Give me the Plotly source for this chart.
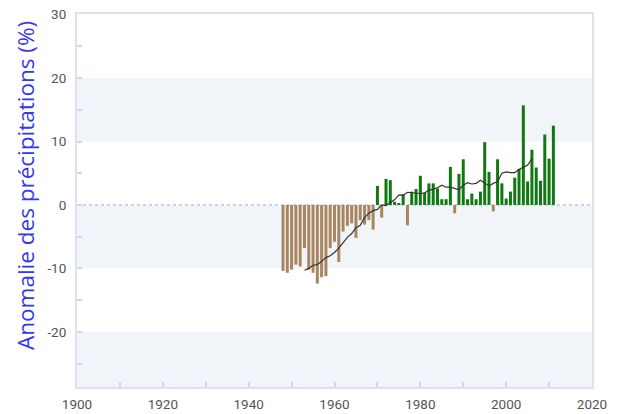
import plotly.graph_objects as go

# Annual precipitation anomaly (%) relative to the reference period
years = list(range(1948, 2012))
anomaly = [
    -10.4, -10.7, -10.2, -9.4, -9.7, -6.8, -10.2, -10.7, -12.4, -11.4,
    -11.2, -6.8, -5.8, -9.0, -4.2, -3.3, -2.9, -5.2, -2.4, -3.1,
    -2.4, -3.9, 3.0, -2.0, 4.1, 3.9, 0.5, 0.3, 1.7, -3.2,
    2.1, 2.5, 4.6, 1.9, 3.4, 3.4, 2.6, 0.9, 0.9, 6.0,
    -1.3, 4.9, 7.2, 0.9, 1.8, 0.9, 2.1, 9.9, 5.2, -1.0,
    7.2, 3.4, 1.0, 2.1, 4.3, 5.7, 15.7, 3.7, 8.7, 5.9,
    3.8, 11.1, 7.3, 12.5,
]

# 11-year centred running mean of the anomaly
mean_years = list(range(1953, 2007))
running_mean = [
    -10.3, -10.0, -9.5, -9.4, -8.9, -8.3, -8.0, -7.5, -6.8, -5.9,
    -5.1, -4.5, -3.6, -3.2, -2.0, -1.3, -0.9, -0.7, 0.0, -0.1,
    0.4, 0.8, 1.6, 1.5, 2.0, 1.9, 1.8, 1.8, 1.9, 2.3,
    2.5, 2.7, 3.1, 2.8, 2.8, 2.6, 2.4, 3.1, 3.5, 3.3,
    3.4, 3.9, 3.5, 3.0, 3.4, 3.7, 5.0, 5.2, 5.1, 5.1,
    5.6, 6.0, 6.3, 7.3,
]

x_tick_labels = ["1900", "1920", "1940", "1960", "1980", "2000", "2020"]
y_tick_labels = ["-20", "-10", "0", "10", "20", "30"]

WET = "#107810"
DRY = "#a8865f"
BAND = "#f1f4f9"
FRAME = "#dbe3ee"
TICK = "#ccd8e6"
Y_MIN, Y_MAX = -28.7, 30.1

bar_colors = [WET if v >= 0 else DRY for v in anomaly]

fig = go.Figure()

fig.add_trace(go.Bar(
    x=years,
    y=anomaly,
    marker=dict(color=bar_colors, line=dict(width=0)),
    width=0.7,
    hoverinfo="x+y",
))

fig.add_trace(go.Scatter(
    x=mean_years,
    y=running_mean,
    mode="lines",
    line=dict(color="#333333", width=1.2),
    hoverinfo="skip",
))

# alternating horizontal bands
for lo, hi in [(10, 20), (-10, 0), (Y_MIN, -20)]:
    fig.add_shape(type="rect", xref="paper", yref="y", x0=0, x1=1,
                  y0=lo, y1=hi, fillcolor=BAND, line=dict(width=0),
                  layer="below")

# dotted zero line
fig.add_shape(type="line", xref="paper", yref="y", x0=0, x1=1, y0=0, y1=0,
              line=dict(color="#b7c7dc", width=1.5, dash="dot"), layer="below")

fig.add_annotation(
    text="Anomalie des précipitations (%)",
    xref="paper", yref="paper", x=-0.099, y=0.539,
    xanchor="center", yanchor="middle", textangle=-90, showarrow=False,
    font=dict(family="Open Sans, sans-serif", size=22.5, color="#3636f0"),
)

fig.update_layout(
    width=617, height=414,
    margin=dict(l=77, r=25, t=14, b=27),
    paper_bgcolor="white",
    plot_bgcolor="white",
    showlegend=False,
    bargap=0.3,
    font=dict(family="Roboto, sans-serif", size=13.5, color="#555555"),
    xaxis=dict(
        range=[1900, 2020],
        tickvals=[int(t) for t in x_tick_labels],
        ticktext=x_tick_labels,
        ticks="inside", ticklen=5, tickcolor=TICK, tickwidth=1.5,
        minor=dict(dtick=10, ticks="inside", ticklen=5, tickcolor=TICK, tickwidth=1.5),
        showgrid=False, zeroline=False,
        showline=True, linecolor=FRAME, linewidth=2, mirror=True,
        ticklabelstandoff=4,
        automargin=False,
    ),
    yaxis=dict(
        range=[Y_MIN, Y_MAX],
        tickvals=[int(t) for t in y_tick_labels],
        ticktext=y_tick_labels,
        ticks="inside", ticklen=5, tickcolor=TICK, tickwidth=1.5,
        minor=dict(dtick=5, ticks="inside", ticklen=5, tickcolor=TICK, tickwidth=1.5),
        showgrid=False, zeroline=False,
        showline=True, linecolor=FRAME, linewidth=2, mirror=True,
        ticklabelstandoff=6,
        automargin=False,
    ),
)

fig.write_html("out.html")
